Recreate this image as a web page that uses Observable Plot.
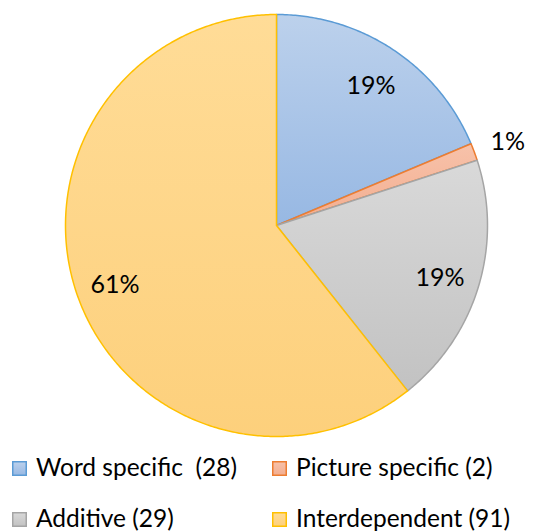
<!DOCTYPE html>
<html>
<head>
<meta charset="utf-8">
<script src="https://cdn.jsdelivr.net/npm/d3@7"></script>
<script src="https://cdn.jsdelivr.net/npm/@observablehq/plot@0.6"></script>
<style>
  body { margin: 0; background: #fff; }
  #wrap { position: relative; width: 554px; height: 532px; overflow: hidden; font-family: Lato, "Open Sans", sans-serif; }
  #chart { position: absolute; left: 0; top: 0; }
  #legend { position: absolute; left: 0; top: 450px; }
</style>
</head>
<body>
<div id="wrap"><div id="chart"></div><div id="legend"></div></div>
<script>
const categories = ["Word specific", "Picture specific", "Additive", "Interdependent"];
const legendLabels = ["Word specific  (28)", "Picture specific (2)", "Additive (29)", "Interdependent (91)"];
const values = [28, 2, 29, 91];
const percentLabels = ["19%", "1%", "19%", "61%"];
const strokes = ["#5b9bd5", "#ed7d31", "#a5a5a5", "#ffc000"];
const gradTop = ["#bcd1ec", "#f7c2aa", "#d9d9d9", "#ffdc97"];
const gradBottom = ["#97b8e3", "#f3ad8f", "#c2c2c2", "#fdd07c"];

const pie = d3.pie().sort(null).value(d => d)(values);

// polygon points for each slice, angles measured clockwise from 12 o'clock
const pts = [];
pie.forEach((a, i) => {
  const n = Math.max(4, Math.ceil((a.endAngle - a.startAngle) / 0.01));
  pts.push({k: i, x: 0, y: 0});
  for (let j = 0; j <= n; j++) {
    const t = a.startAngle + (a.endAngle - a.startAngle) * j / n;
    pts.push({k: i, x: Math.sin(t), y: Math.cos(t)});
  }
  pts.push({k: i, x: 0, y: 0});
});

const labels = pie.map((a, i) => {
  const m = (a.startAngle + a.endAngle) / 2;
  const r = values[i] / d3.sum(values) < 0.05 ? 1.17 : 0.81;
  return {x: Math.sin(m) * r, y: Math.cos(m) * r, text: percentLabels[i]};
});

const marks = categories.map((c, i) =>
  Plot.line(pts.filter(d => d.k === i), {
    x: "x", y: "y", fill: `url(#grad${i})`, stroke: strokes[i], strokeWidth: 1.5,
    strokeLinejoin: "round", curve: "linear"
  })
);
marks.push(Plot.text(labels, {x: "x", y: "y", dy: 3, text: "text", fontSize: 25, fill: "#000", fontFamily: "Lato, sans-serif"}));

const svg = Plot.plot({
  width: 554, height: 450,
  marginLeft: 65, marginRight: 67, marginTop: 14, marginBottom: 14,
  x: {domain: [-1, 1], axis: null},
  y: {domain: [-1, 1], axis: null},
  style: {background: "transparent"},
  marks
});

const defs = d3.select(svg).insert("defs", ":first-child");
categories.forEach((c, i) => {
  const g = defs.append("linearGradient").attr("id", `grad${i}`).attr("x1", 0).attr("y1", 0).attr("x2", 0).attr("y2", 1);
  g.append("stop").attr("offset", "0%").attr("stop-color", gradTop[i]);
  g.append("stop").attr("offset", "100%").attr("stop-color", gradBottom[i]);
});
document.getElementById("chart").appendChild(svg);

// legend (below the chart SVG), positions relative to legend top (y=450)
const leg = d3.select("#legend").append("svg").attr("width", 554).attr("height", 82)
  .style("font-family", "Lato, 'Open Sans', sans-serif");
const lg = leg.append("defs");
categories.forEach((c, i) => {
  const g = lg.append("linearGradient").attr("id", `lgrad${i}`).attr("x1", 0).attr("y1", 0).attr("x2", 0).attr("y2", 1);
  g.append("stop").attr("offset", "0%").attr("stop-color", gradTop[i]);
  g.append("stop").attr("offset", "100%").attr("stop-color", gradBottom[i]);
});
const legPos = [[12, 11], [272, 11], [12, 62], [272, 62]];
categories.forEach((c, i) => {
  const [lx, ly] = legPos[i];
  leg.append("rect").attr("x", lx + 0.75).attr("y", ly + 0.75).attr("width", 13.5).attr("height", 13.5)
    .attr("fill", `url(#lgrad${i})`).attr("stroke", strokes[i]).attr("stroke-width", 1.5);
  leg.append("text").attr("x", lx + 24).attr("y", ly + 15).attr("font-size", 24.5).attr("fill", "#000")
    .style("white-space", "pre").attr("xml:space", "preserve").text(legendLabels[i]);
});
</script>
</body>
</html>
